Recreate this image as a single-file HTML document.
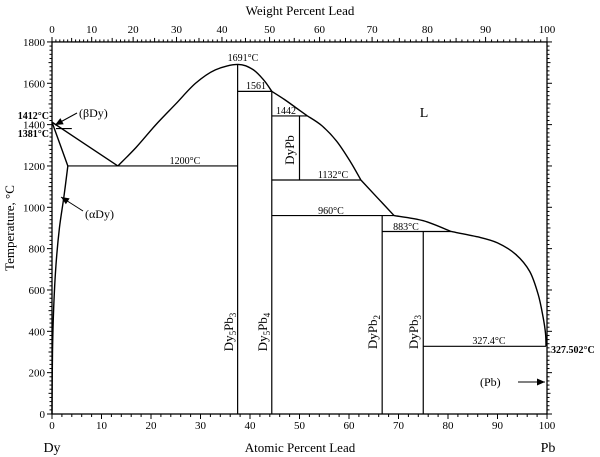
<!DOCTYPE html>
<html><head><meta charset="utf-8"><style>
html,body{margin:0;padding:0;background:#fff;}
svg{display:block;font-family:"Liberation Serif",serif;}
</style></head><body>
<svg id="c" width="600" height="457" viewBox="0 0 600 457"></svg>
<script>
const atTicks=[0,10,20,30,40,50,60,70,80,90,100];
const wtTicks=[0,10,20,30,40,50,60,70,80,90,100];
const tTicks=[0,200,400,600,800,1000,1200,1400,1600,1800];
const liqA=[[0,1412],[13.3,1200]];
const liqB1=[[13.3,1200],[17,1290],[21,1400],[25,1500],[29,1600],[33,1665],[37.5,1691],[40.5,1668],[42.8,1615],[44.4,1561]];
const liqB2=[[44.4,1561],[47,1521],[49.5,1478],[51.6,1442]];
const liqB3=[[51.6,1442],[54.5,1395],[57.5,1320],[60.3,1220],[62.4,1132]];
const liqB4=[[62.4,1132],[69.1,960]];
const liqB5=[[69.1,960],[75,935],[80.6,883]];
const liqB6=[[80.6,883],[86,857],[90,828],[93.7,772],[96.5,690],[98.2,580],[99.2,470],[99.7,390],[99.8,327.5]];
const betaDy=[[0,1412],[3.2,1200]];
const alphaDy=[[3.2,1200],[2.4,1050],[1.5,900],[0.8,720],[0.35,520],[0.1,300],[0,0]];
const lines=[[0.8,4,1381],[3.2,37.5,1200],[37.5,44.4,1561],[44.4,51.6,1442],[44.4,62.4,1132],[44.4,69.1,960],[66.7,80.6,883],[75,99.8,327.4]];
const verts=[[37.5,0,1691],[44.4,0,1561],[50,1132,1442],[66.7,0,960],[75,0,883]];
const X=a=>52+a*4.95, Y=t=>414-t*0.2067;
const wtToAt=w=>{const a=w/207.2,b=(100-w)/162.5;return 100*a/(a+b);};
const s=document.getElementById('c');const NS='http://www.w3.org/2000/svg';
function el(t,at,txt){const e=document.createElementNS(NS,t);for(const k in at)e.setAttribute(k,at[k]);if(txt!==undefined)e.textContent=txt;s.appendChild(e);return e;}
let e=el('rect',{x:52,y:Y(1800),width:495,height:Y(0)-Y(1800),fill:'none',stroke:'#000','stroke-width':1.3});


for(let a=0;a<=100;a+=2){const mj=a%10==0;el('line',{x1:X(a),x2:X(a),y1:414,y2:414+(mj?5:3),stroke:'#000'});}
atTicks.forEach(a=>{e=el('text',{x:X(a),y:429,'font-size':11,'text-anchor':'middle'},a);

});
for(let w=0;w<=100;w+=1){const mj=w%10==0,m5=w%5==0;el('line',{x1:X(wtToAt(w)),x2:X(wtToAt(w)),y1:Y(1800),y2:Y(1800)-(mj?5:(m5?4:2.5)),stroke:'#000'});}
wtTicks.forEach(w=>{e=el('text',{x:X(wtToAt(w)),y:33,'font-size':11,'text-anchor':'middle'},w);

});
for(let t=0;t<=1800;t+=20){const mj=t%200==0,m=t%100==0;el('line',{x1:52,x2:52-(mj?5:(m?3.5:2.5)),y1:Y(t),y2:Y(t),stroke:'#000'});el('line',{x1:547,x2:547+(mj?5:(m?3.5:2.5)),y1:Y(t),y2:Y(t),stroke:'#000'});}
tTicks.forEach(t=>{e=el('text',{x:45,y:Y(t)+4,'font-size':11,'text-anchor':'end'},t);

});
function smooth(arr){const P=arr.map(d=>[X(d[0]),Y(d[1])]);let d='M'+P[0][0]+','+P[0][1];
for(let i=0;i<P.length-1;i++){const p0=P[i-1]||P[i],p1=P[i],p2=P[i+1],p3=P[i+2]||p2;
const c1=[p1[0]+(p2[0]-p0[0])/6,p1[1]+(p2[1]-p0[1])/6],c2=[p2[0]-(p3[0]-p1[0])/6,p2[1]-(p3[1]-p1[1])/6];
d+=' C'+c1.join(',')+' '+c2.join(',')+' '+p2.join(',');}return d;}
function pl(arr,name){const p=el('path',{d:smooth(arr),fill:'none',stroke:'#000','stroke-width':1.4});

}
pl(liqA,'liquidus-dy-side');pl(liqB1,'liquidus-dy5pb3');pl(liqB2,'liquidus-dy5pb4');pl(liqB3,'liquidus-dypb');pl(liqB4,'liquidus-mid');pl(liqB5,'liquidus-dypb2');pl(liqB6,'liquidus-pb-side');pl(betaDy,'beta-dy-solidus');pl(alphaDy,'alpha-dy-solvus');
lines.forEach(l=>{e=el('line',{x1:X(l[0]),x2:X(l[1]),y1:Y(l[2]),y2:Y(l[2]),stroke:'#000','stroke-width':1.2});

});
verts.forEach(v=>{e=el('line',{x1:X(v[0]),x2:X(v[0]),y1:Y(v[1]),y2:Y(v[2]),stroke:'#000','stroke-width':1.2});

});
function tx(x,y,t,fs,opt,name){const o=Object.assign({x:x,y:y,'font-size':fs},opt||{});const q=el('text',o,t);

return q;}
tx(300,15,'Weight Percent Lead',13,{'text-anchor':'middle'},'top-axis-title');
tx(300,452,'Atomic Percent Lead',13,{'text-anchor':'middle'},'x-axis-title');
tx(52,452,'Dy',14,{'text-anchor':'middle'},'dy-label');
tx(548,452,'Pb',14,{'text-anchor':'middle'},'pb-label');
tx(14,228,'Temperature, °C',13,{'text-anchor':'middle',transform:'rotate(-90 14 228)'},'y-axis-title');
tx(243,61,'1691°C',10,{'text-anchor':'middle'},'label-1691');
tx(256,89,'1561',10,{'text-anchor':'middle'},'label-1561');
tx(286,114,'1442',10,{'text-anchor':'middle'},'label-1442');
tx(185,164,'1200°C',10,{'text-anchor':'middle'},'label-1200');
tx(333,178,'1132°C',10,{'text-anchor':'middle'},'label-1132');
tx(331,214,'960°C',10,{'text-anchor':'middle'},'label-960');
tx(406,230,'883°C',10,{'text-anchor':'middle'},'label-883');
tx(489,344,'327.4°C',10,{'text-anchor':'middle'},'label-327');
tx(424,117,'L',14,{'text-anchor':'middle'},'liquid-label');
tx(49,119,'1412°C',10,{'text-anchor':'end','font-weight':'bold'},'label-1412');
tx(49,137,'1381°C',10,{'text-anchor':'end','font-weight':'bold'},'label-1381');
tx(551,353,'327.502°C',10,{'font-weight':'bold'},'label-327502');
tx(79,117,'(βDy)',12,{},'beta-dy-label');
tx(85,218,'(αDy)',12,{},'alpha-dy-label');
tx(480,386,'(Pb)',12,{},'pb-phase-label');
function rot(x,y,html,name){const q=el('text',{x:x,y:y,'font-size':13,'text-anchor':'middle',transform:'rotate(-90 '+x+' '+y+')'});q.innerHTML=html;

}
const sub='<tspan font-size="9" dy="3">';
rot(233,332,'Dy'+sub+'5</tspan><tspan dy="-3">Pb</tspan>'+sub+'3</tspan>','dy5pb3-label');
rot(267,332,'Dy'+sub+'5</tspan><tspan dy="-3">Pb</tspan>'+sub+'4</tspan>','dy5pb4-label');
rot(377,332,'DyPb'+sub+'2</tspan>','dypb2-label');
rot(418,332,'DyPb'+sub+'3</tspan>','dypb3-label');
rot(294,150,'DyPb','dypb-label');
function arrow(x1,y1,x2,y2,name){const g=el('g',{});
const l=document.createElementNS(NS,'line');l.setAttribute('x1',x1);l.setAttribute('y1',y1);l.setAttribute('x2',x2);l.setAttribute('y2',y2);l.setAttribute('stroke','#000');g.appendChild(l);
const ang=Math.atan2(y2-y1,x2-x1),L=8,W=3.5;const bx=x2-L*Math.cos(ang),by=y2-L*Math.sin(ang);
const p=document.createElementNS(NS,'polygon');p.setAttribute('points',[x2,y2,bx+W*Math.sin(ang),by-W*Math.cos(ang),bx-W*Math.sin(ang),by+W*Math.cos(ang)].join(','));g.appendChild(p);}
arrow(77,113,55,125,'beta-dy-arrow');
arrow(83,211,61,197,'alpha-dy-arrow');
arrow(518,382,545,382,'pb-arrow');
</script>
</body></html>
